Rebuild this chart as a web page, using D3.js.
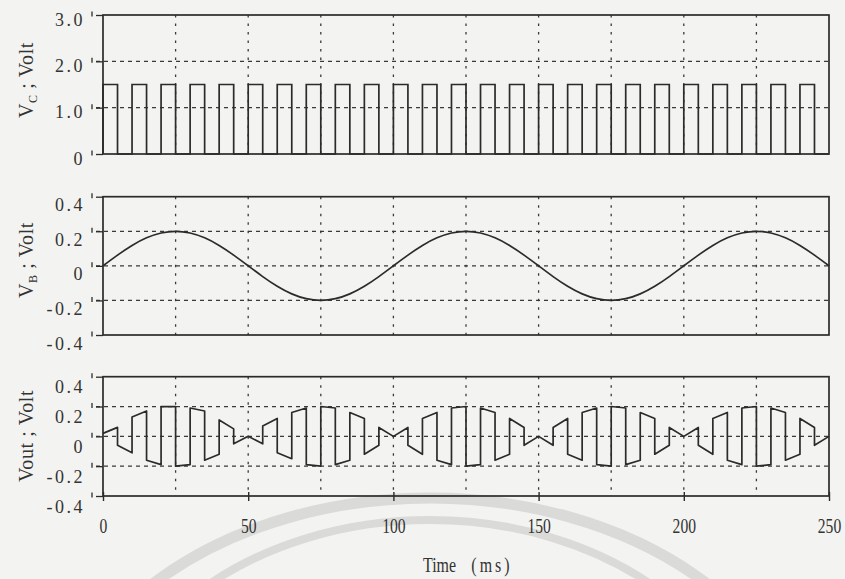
<!DOCTYPE html>
<html>
<head>
<meta charset="utf-8">
<script src="https://cdn.jsdelivr.net/npm/d3@7"></script>
<style>
  html, body { margin: 0; padding: 0; background: #f3f3f1; }
  svg { display: block; }
  text { font-family: "Liberation Serif", "Times New Roman", serif; fill: #333; }
</style>
</head>
<body>
<svg id="chart" width="845" height="579"></svg>
<script>
// ---- Data -------------------------------------------------------------

// Clock voltage V_C : pulse rising / falling edges (ms) and high level (V)
const pulseOn  = [0, 10, 20, 30, 40, 50, 60, 70, 80, 90, 100, 110, 120,
                  130, 140, 150, 160, 170, 180, 190, 200, 210, 220, 230, 240];
const pulseOff = [5, 15, 25, 35, 45, 55, 65, 75, 85, 95, 105, 115, 125,
                  135, 145, 155, 165, 175, 185, 195, 205, 215, 225, 235, 245];
const pulseLevel = 1.5;

// Input V_B sampled every 5 ms
const timeVB = [0, 5, 10, 15, 20, 25, 30, 35, 40, 45, 50, 55, 60, 65, 70, 75, 80, 85, 90, 95,
                100, 105, 110, 115, 120, 125, 130, 135, 140, 145, 150, 155, 160, 165, 170, 175,
                180, 185, 190, 195, 200, 205, 210, 215, 220, 225, 230, 235, 240, 245, 250];
const valueVB = [0.000, 0.062, 0.118, 0.162, 0.190, 0.200, 0.190, 0.162, 0.118, 0.062,
                 0.000, -0.062, -0.118, -0.162, -0.190, -0.200, -0.190, -0.162, -0.118, -0.062,
                 0.000, 0.062, 0.118, 0.162, 0.190, 0.200, 0.190, 0.162, 0.118, 0.062,
                 0.000, -0.062, -0.118, -0.162, -0.190, -0.200, -0.190, -0.162, -0.118, -0.062,
                 0.000, 0.062, 0.118, 0.162, 0.190, 0.200, 0.190, 0.162, 0.118, 0.062, 0.000];

// Output Vout: value at the start and at the end of every 5 ms segment
const voutStart = [0.02, -0.06, 0.13, -0.16, 0.20, -0.20, 0.19, -0.16, 0.11, -0.05,
                   0.00, 0.07, -0.11, 0.16, -0.19, 0.20, -0.19, 0.16, -0.12, 0.06,
                   0.00, -0.06, 0.12, -0.16, 0.19, -0.20, 0.19, -0.16, 0.12, -0.06,
                   0.00, 0.06, -0.12, 0.16, -0.19, 0.20, -0.19, 0.16, -0.12, 0.06,
                   0.00, -0.06, 0.12, -0.16, 0.19, -0.20, 0.19, -0.16, 0.12, -0.06];
const voutEnd   = [0.06, -0.11, 0.17, -0.19, 0.20, -0.19, 0.17, -0.12, 0.05, 0.00,
                   -0.05, 0.12, -0.15, 0.19, -0.20, 0.19, -0.16, 0.12, -0.06, 0.00,
                   0.06, -0.12, 0.16, -0.19, 0.20, -0.19, 0.16, -0.12, 0.06, 0.00,
                   -0.06, 0.12, -0.16, 0.19, -0.20, 0.19, -0.16, 0.12, -0.06, 0.00,
                   0.06, -0.12, 0.16, -0.19, 0.20, -0.19, 0.16, -0.12, 0.06, 0.00];
const segmentLength = 5;

// Axes
const timeTicks = [0, 50, 100, 150, 200, 250];
const timeGrid  = [25, 50, 75, 100, 125, 150, 175, 200, 225];
const vcTicks   = [0, 1, 2, 3];
const vcLabels  = ["0", "1.0", "2.0", "3.0"];
const vTicks    = [-0.4, -0.2, 0, 0.2, 0.4];
const vLabels   = ["-0.4", "-0.2", "0", "0.2", "0.4"];

// ---- Drawing ----------------------------------------------------------

const svg = d3.select("#chart");
const x = d3.scaleLinear().domain([0, 250]).range([103, 829]);

// faint circular stamp behind the lower axis
const stamp = svg.append("g").attr("fill", "none").attr("stroke", "#dadad8");
stamp.append("ellipse").attr("cx", 430).attr("cy", 770).attr("rx", 380).attr("ry", 272).attr("stroke-width", 11);
stamp.append("ellipse").attr("cx", 430).attr("cy", 770).attr("rx", 330).attr("ry", 250).attr("stroke-width", 8);

const ink = "#2b2b2b";

const panels = [
  { id: "vc",   top: 15,    bottom: 154, domain: [0, 3],      ticks: vcTicks, labels: vcLabels,
    grid: [1, 2],          labelDy: 4,  title: ["V", "C"],  titleY: 80 },
  { id: "vb",   top: 196.7, bottom: 335, domain: [-0.4, 0.4], ticks: vTicks,  labels: vLabels,
    grid: [-0.2, 0, 0.2],  labelDy: 8,  title: ["V", "B"],  titleY: 260 },
  { id: "vout", top: 376.7, bottom: 496, domain: [-0.4, 0.4], ticks: vTicks,  labels: vLabels,
    grid: [-0.2, 0, 0.2],  labelDy: 10, title: ["Vout", ""], titleY: 436 }
];

const scales = {};

panels.forEach(p => {
  const y = d3.scaleLinear().domain(p.domain).range([p.bottom, p.top]);
  scales[p.id] = y;
  const g = svg.append("g").attr("class", "panel-" + p.id);

  // horizontal grid
  g.append("g").selectAll("line").data(p.grid).join("line")
    .attr("x1", 96).attr("x2", x(250))
    .attr("y1", d => y(d)).attr("y2", d => y(d))
    .attr("stroke", "#3a3a3a").attr("stroke-width", 1.2)
    .attr("stroke-dasharray", "4,4");

  // vertical grid
  g.append("g").selectAll("line").data(timeGrid).join("line")
    .attr("x1", d => x(d)).attr("x2", d => x(d))
    .attr("y1", p.top).attr("y2", p.bottom)
    .attr("stroke", "#3a3a3a").attr("stroke-width", 1.3)
    .attr("stroke-dasharray", "2.5,6");

  // left axis
  const axis = d3.axisLeft(y)
    .tickValues(p.ticks)
    .tickFormat((d, i) => p.labels[i])
    .tickSize(7)
    .tickPadding(11);
  const ag = g.append("g").attr("transform", `translate(${x(0)},0)`).call(axis);
  ag.select(".domain").remove();
  ag.selectAll(".tick line").attr("stroke", ink).attr("stroke-width", 1.3);
  ag.selectAll(".tick text")
    .attr("dy", null)
    .attr("y", p.labelDy + 6)
    .attr("font-size", 18)
    .attr("letter-spacing", "2.5px")
    .attr("fill", "#333");
  ag.selectAll(".tick").append("line")
    .attr("x1", -11).attr("x2", -11).attr("y1", -4).attr("y2", 1)
    .attr("stroke", ink).attr("stroke-width", 1.3);

  // frame
  g.append("rect")
    .attr("x", x(0)).attr("y", p.top)
    .attr("width", x(250) - x(0)).attr("height", p.bottom - p.top)
    .attr("fill", "none").attr("stroke", ink).attr("stroke-width", 1.7);

  // y title
  const t = svg.append("text")
    .attr("transform", `translate(33,${p.titleY}) rotate(-90)`)
    .attr("text-anchor", "middle")
    .attr("font-size", 20)
    .attr("letter-spacing", "0.6px");
  t.append("tspan").text(p.title[0]);
  if (p.title[1]) {
    t.append("tspan").attr("font-size", 12).attr("dy", 4).text(p.title[1]);
    t.append("tspan").attr("dy", -4).text(" ; Volt");
  } else {
    t.append("tspan").text(" ; Volt");
  }
});

// V_C pulse train
const vcPoints = [[0, 0]];
pulseOn.forEach((on, i) => {
  vcPoints.push([on, 0], [on, pulseLevel], [pulseOff[i], pulseLevel], [pulseOff[i], 0]);
});
vcPoints.push([250, 0]);
svg.append("path")
  .datum(vcPoints)
  .attr("fill", "none").attr("stroke", ink).attr("stroke-width", 1.7)
  .attr("d", d3.line().x(d => x(d[0])).y(d => scales.vc(d[1])));

// V_B sine
svg.append("path")
  .datum(timeVB.map((t, i) => [t, valueVB[i]]))
  .attr("fill", "none").attr("stroke", ink).attr("stroke-width", 1.7)
  .attr("d", d3.line().curve(d3.curveNatural).x(d => x(d[0])).y(d => scales.vb(d[1])));

// Vout chopped signal
const voutPoints = [];
voutStart.forEach((v, k) => {
  voutPoints.push([k * segmentLength, v], [(k + 1) * segmentLength, voutEnd[k]]);
});
svg.append("path")
  .datum(voutPoints)
  .attr("fill", "none").attr("stroke", ink).attr("stroke-width", 1.7)
  .attr("stroke-linejoin", "round")
  .attr("d", d3.line().x(d => x(d[0])).y(d => scales.vout(d[1])));

// bottom time axis
const xAxis = d3.axisBottom(x).tickValues(timeTicks).tickSize(9).tickFormat(d3.format("d"));
const xg = svg.append("g").attr("transform", "translate(0,492)").call(xAxis);
xg.select(".domain").remove();
xg.selectAll(".tick line").attr("stroke", ink).attr("stroke-width", 1.4);
xg.selectAll(".tick text")
  .attr("dy", null).attr("y", 41)
  .attr("font-size", 20)
  .attr("transform", "scale(0.78,1)")
  .attr("fill", "#333");

// x title
const xt = svg.append("text")
  .attr("transform", "translate(423,572) scale(0.76,1)")
  .attr("font-size", 21);
xt.append("tspan").text("Time");
xt.append("tspan").attr("dx", 20).attr("letter-spacing", "4px").text("(ms)");
</script>
</body>
</html>
